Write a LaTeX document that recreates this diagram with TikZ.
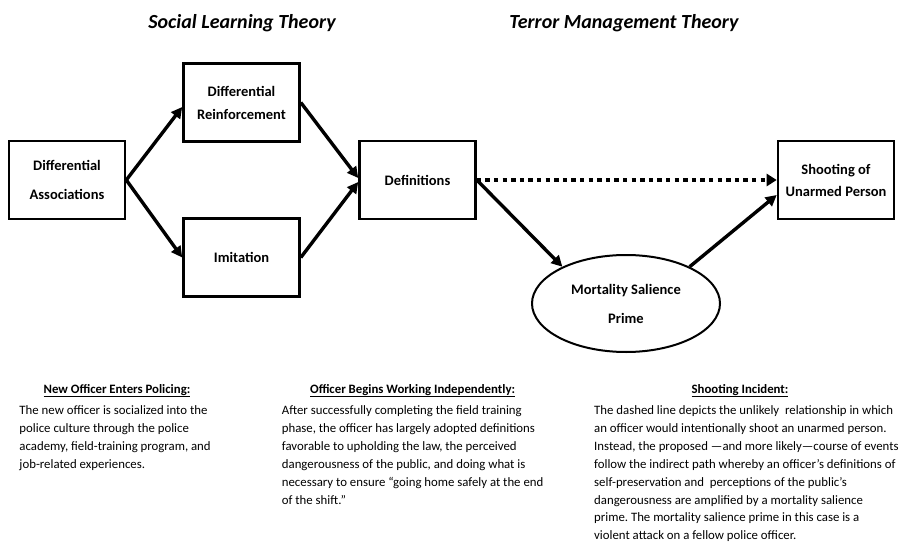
\documentclass[tikz,border=0pt]{standalone}
\usepackage{fontspec}
\setmainfont{Carlito}
\usetikzlibrary{arrows.meta,shapes.geometric}
\frenchspacing
\begin{document}
\begin{tikzpicture}[x=1pt,y=-1pt,
  box/.style={draw, line width=2.6pt, minimum width=116pt, minimum height=78pt, inner sep=0pt, align=center, font=\bfseries\fontsize{14.5}{23}\selectfont},
  conn/.style={line width=3.4pt, -{Triangle[length=11pt,width=11pt]}},
  dotconn/.style={line width=4pt, dash pattern=on 4.3pt off 4.3pt, -{Triangle[length=10pt,width=12pt]}},
  title/.style={anchor=base, font=\bfseries\itshape\fontsize{20}{24}\selectfont},
  head/.style={anchor=base, font=\bfseries\fontsize{12.8}{14}\selectfont},
  body/.style={anchor=north west, inner sep=0pt, align=left, font=\fontsize{12.8}{17.9}\selectfont}]
\useasboundingbox (0,0) rectangle (905,543);
\node[title] (t1) at (242,28.8) {Social Learning Theory};
\node[title] (t2) at (624,28.8) {Terror Management Theory};

\node[box, font=\bfseries\fontsize{14.5}{29.3}\selectfont] (da) at (67,180) {Differential\\Associations};
\node[box] (dr) at (241.5,102.5) {Differential\\Reinforcement};
\node[box] (im) at (241.5,257.5) {Imitation};
\node[box] (def) at (417.5,180) {Definitions};
\node[box, font=\bfseries\fontsize{14.5}{22}\selectfont] (sh) at (836,180) {Shooting of\\Unarmed Person};
\node[draw, ellipse, line width=2pt, minimum width=188pt, minimum height=97pt, inner sep=0pt, align=center, font=\bfseries\fontsize{14.5}{29}\selectfont] (msp) at (626,303.5) {Mortality Salience\\Prime};

\draw[conn] (da.east) -- ([yshift=-4.5pt]dr.west);
\draw[conn] (da.east) -- (im.west);
\draw[conn] (dr.east) -- ([yshift=2pt]def.west);
\draw[conn] (im.east) -- ([yshift=-2pt]def.west);
\draw[dotconn] (def.east) -- (sh.west);
\draw[conn] (def.east) -- (msp.150);
\draw[conn] (msp.30) -- ([yshift=-15pt]sh.west);

\node[head] (h1) at (117,393) {\underline{New Officer Enters Policing:}};
\node[head] (h2) at (412.6,393) {\underline{Officer Begins Working Independently:}};
\node[head] (h3) at (740,393) {\underline{Shooting Incident:}};

\node[body] (b1) at (19.3,405.5) {The new officer is socialized into the\\police culture through the police\\academy, field-training program, and\\job-related experiences.};
\node[body] (b2) at (281.7,405.5) {After successfully completing the field training\\phase, the officer has largely adopted definitions\\favorable to upholding the law, the perceived\\dangerousness of the public, and doing what is\\necessary to ensure “going home safely at the end\\of the shift.”};
\node[body] (b3) at (594,405.5) {The dashed line depicts the unlikely\ \ relationship in which\\an officer would intentionally shoot an unarmed person.\\Instead, the proposed —and more likely—course of events\\follow the indirect path whereby an officer’s definitions of\\self-preservation and\ \ perceptions of the public’s\\dangerousness are amplified by a mortality salience\\prime. The mortality salience prime in this case is a\\violent attack on a fellow police officer.};
\end{tikzpicture}
\end{document}
